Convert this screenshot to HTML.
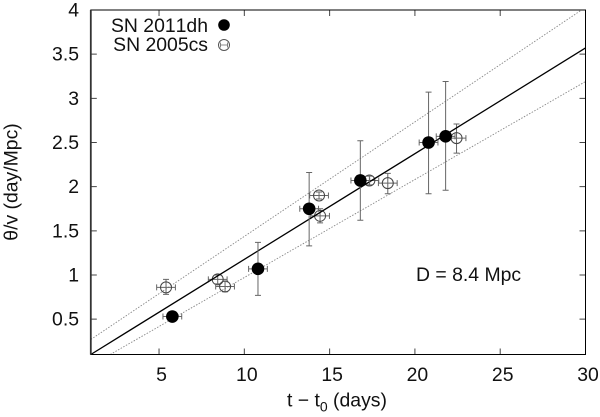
<!DOCTYPE html>
<html>
<head>
<meta charset="utf-8">
<style>
html,body{margin:0;padding:0;background:#fff;}
svg{display:block;}
text{font-family:"Liberation Sans",sans-serif;font-size:19.4px;fill:#111;font-kerning:none;}
</style>
</head>
<body>
<svg id="chart" width="600" height="417" viewBox="0 0 600 417" xmlns="http://www.w3.org/2000/svg">
<defs><clipPath id="plot-clip"><rect x="91" y="10" width="494.5" height="344.5"/></clipPath></defs>
<g id="lines" clip-path="url(#plot-clip)"></g>
<g id="marks"></g>
<g id="axes"></g>
<text transform="translate(17.5,182) rotate(-90)" text-anchor="middle">θ/v (day/Mpc)</text>
<text x="287" y="406.5">t − t<tspan dy="5" font-size="14">0</tspan><tspan dy="-5"> (days)</tspan></text>
<text x="416" y="281">D = 8.4 Mpc</text>
<g>
<text x="208" y="32" text-anchor="end">SN 2011dh</text>
<circle cx="224" cy="25" r="5.8" fill="#000"/>
<text x="208" y="51" text-anchor="end">SN 2005cs</text>
<circle cx="224" cy="45" r="5.5" fill="none" stroke="#555" stroke-width="1"/>
<path d="M220.5 42.5v5M220.5 45h7M227.5 42.5v5" fill="none" stroke="#666" stroke-width="0.8"/>
</g>
</svg>
<script>
const xTicks = [5, 10, 15, 20, 25, 30];
const yTicks = [0.5, 1, 1.5, 2, 2.5, 3, 3.5, 4];
const xDomain = [1, 30];
const yDomain = [0.1, 4];

const fitT = [1, 30];
const fitTheta = [0.1, 3.57];
const upperT = [1, 30];
const upperTheta = [0.27, 4.03];
const lowerT = [2.14, 30];
const lowerTheta = [0.1, 3.19];

const dhT = [5.78, 10.8, 13.8, 16.8, 20.8, 21.8];
const dhTheta = [0.53, 1.07, 1.75, 2.07, 2.5, 2.57];
const dhThetaLow = [0.5, 0.77, 1.33, 1.62, 1.92, 1.96];
const dhThetaHigh = [0.56, 1.37, 2.16, 2.52, 3.07, 3.19];
const dhTErr = [0.55, 0.55, 0.55, 0.55, 0.55, 0.55];

const csT = [5.41, 8.44, 8.87, 14.38, 14.44, 17.33, 18.41, 22.44];
const csTheta = [0.86, 0.95, 0.87, 1.9, 1.67, 2.07, 2.04, 2.55];
const csThetaLow = [0.78, 0.9, 0.81, 1.86, 1.59, 2.02, 1.92, 2.38];
const csThetaHigh = [0.95, 1.0, 0.93, 1.94, 1.75, 2.12, 2.15, 2.71];
const csTErr = [0.55, 0.55, 0.55, 0.55, 0.55, 0.55, 0.55, 0.55];

const NS = 'http://www.w3.org/2000/svg';
const left = 90.8, right = 585.5, top_ = 10, bottom = 354.5;
function sx(t){ return left + (t - xDomain[0]) / (xDomain[1] - xDomain[0]) * (right - left); }
function sy(v){ return bottom - (v - yDomain[0]) / (yDomain[1] - yDomain[0]) * (bottom - top_); }
function make(tag, parent, attrs){
  const el = document.createElementNS(NS, tag);
  for (const k in attrs) el.setAttribute(k, attrs[k]);
  parent.appendChild(el);
  return el;
}
const linesG = document.getElementById('lines');
const marksG = document.getElementById('marks');
const axesG = document.getElementById('axes');

function drawLine(ts, vs, name, stroke, width, dash){
  const el = make('line', linesG, {x1:sx(ts[0]), y1:sy(vs[0]), x2:sx(ts[1]), y2:sy(vs[1]), stroke:stroke, 'stroke-width':width});
  if (dash) el.setAttribute('stroke-dasharray', dash);
  
  
}
drawLine(upperT, upperTheta, 'upper-bound-line', '#888', 0.9, '1.5 1.5');
drawLine(lowerT, lowerTheta, 'lower-bound-line', '#888', 0.9, '1.5 1.5');

function drawErrors(t, v, lo, hi, te, name){
  const x = sx(t), y = sy(v), cap = 3;
  const d = 'M' + x + ' ' + sy(lo) + 'V' + sy(hi) +
    'M' + (x - cap) + ' ' + sy(lo) + 'H' + (x + cap) +
    'M' + (x - cap) + ' ' + sy(hi) + 'H' + (x + cap) +
    'M' + sx(t - te) + ' ' + y + 'H' + sx(t + te) +
    'M' + sx(t - te) + ' ' + (y - cap) + 'V' + (y + cap) +
    'M' + sx(t + te) + ' ' + (y - cap) + 'V' + (y + cap);
  const el = make('path', marksG, {d:d, fill:'none', stroke:'#666', 'stroke-width':1});
  
  
}
csT.forEach(function(t, i){
  drawErrors(t, csTheta[i], csThetaLow[i], csThetaHigh[i], csTErr[i], 'sn2005cs-error-bars');
  const c = make('circle', marksG, {cx:sx(t), cy:sy(csTheta[i]), r:5.5, fill:'none', stroke:'#444', 'stroke-width':1});
  
  
});
const fitEl = make('line', marksG, {x1:sx(fitT[0]), y1:sy(fitTheta[0]), x2:sx(fitT[1]), y2:sy(fitTheta[1]), stroke:'#000', 'stroke-width':1.3});


dhT.forEach(function(t, i){
  drawErrors(t, dhTheta[i], dhThetaLow[i], dhThetaHigh[i], dhTErr[i], 'sn2011dh-error-bars');
  const c = make('circle', marksG, {cx:sx(t), cy:sy(dhTheta[i]), r:6.3, fill:'#000'});
  
  
});

xTicks.forEach(function(t){
  const x = sx(t);
  const m = make('path', axesG, {d:'M'+x+' '+bottom+'v-6M'+x+' '+top_+'v6', stroke:'#444', 'stroke-width':1, fill:'none'});
  
  
  const l = make('text', axesG, {x:x + 2.5, y:381, 'text-anchor':'middle'});
  l.textContent = t;
  
  
});
yTicks.forEach(function(v){
  const y = sy(v);
  const m = make('path', axesG, {d:'M'+left+' '+y+'h6M'+right+' '+y+'h-6', stroke:'#444', 'stroke-width':1, fill:'none'});
  
  
  const l = make('text', axesG, {x:79, y:y + 6.5, 'text-anchor':'end'});
  l.textContent = v;
  
  
});
const frame = make('rect', axesG, {x:left, y:top_, width:right - left, height:bottom - top_, fill:'none', stroke:'#000', 'stroke-width':1});


const leftAxis = make('line', axesG, {x1:left, y1:top_, x2:left, y2:bottom, stroke:'#333', 'stroke-width':1.8});


</script>
</body>
</html>
